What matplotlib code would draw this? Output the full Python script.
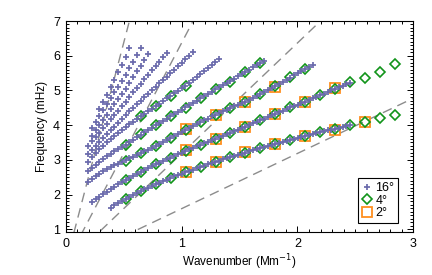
import numpy as np
import matplotlib
matplotlib.use("Agg")
import matplotlib.pyplot as plt
from matplotlib.ticker import MultipleLocator

plt.rcParams.update({
    "font.family": ["Liberation Sans", "DejaVu Sans"],
    "font.size": 8.5,
})

# ---------------------------------------------------------
# k-grid spacings for the three patch sizes (Mm^-1)
# ---------------------------------------------------------
dk16 = 0.0323
dk4 = 0.1293
dk2 = 0.2586

# 16 deg ridges: first grid index and frequencies (mHz)
start16 = {"f": 12, "p1": 7, "p2": 6, "p3": 6, "p4": 6,
           "p5": 6, "p6": 6, "p7": 7, "p8": 7, "p9": 9}

nu16_f = [1.62, 1.70, 1.76, 1.82, 1.88, 1.94, 1.99, 2.05, 2.10, 2.15, 2.20, 2.25,
          2.29, 2.34, 2.39, 2.43, 2.47, 2.52, 2.56, 2.60, 2.64, 2.68, 2.72, 2.76,
          2.80, 2.83, 2.87, 2.91, 2.94, 2.98, 3.01, 3.05, 3.08, 3.12, 3.15, 3.18,
          3.21, 3.25, 3.28, 3.31, 3.34, 3.37, 3.40, 3.43, 3.46, 3.49, 3.52, 3.55,
          3.58, 3.60, 3.63, 3.66, 3.69, 3.72, 3.74, 3.77, 3.80, 3.82, 3.85, 3.87,
          3.90, 3.92, 3.95, 3.97, 4.00]
nu16_p1 = [1.78, 1.86, 1.94, 2.01, 2.08, 2.15, 2.22, 2.29, 2.36, 2.42, 2.48, 2.54,
           2.60, 2.66, 2.71, 2.77, 2.82, 2.87, 2.92, 2.97, 3.01, 3.06, 3.11, 3.16,
           3.21, 3.26, 3.30, 3.35, 3.39, 3.44, 3.48, 3.52, 3.57, 3.61, 3.65, 3.69,
           3.74, 3.78, 3.82, 3.86, 3.91, 3.95, 4.00, 4.05, 4.09, 4.14, 4.19, 4.24,
           4.28, 4.33, 4.37, 4.42, 4.46, 4.51, 4.55, 4.59, 4.64, 4.68, 4.73, 4.77,
           4.82, 4.86, 4.91, 4.96, 5.00, 5.05, 5.09, 5.13, 5.18, 5.22]
nu16_p2 = [2.35, 2.44, 2.52, 2.60, 2.67, 2.73, 2.79, 2.84, 2.89, 2.94, 2.99, 3.04,
           3.09, 3.14, 3.19, 3.24, 3.29, 3.35, 3.40, 3.46, 3.51, 3.57, 3.62, 3.68,
           3.75, 3.81, 3.87, 3.92, 3.98, 4.03, 4.09, 4.14, 4.19, 4.25, 4.30, 4.35,
           4.40, 4.44, 4.49, 4.54, 4.59, 4.63, 4.68, 4.73, 4.79, 4.84, 4.90, 4.95,
           5.01, 5.06, 5.12, 5.18, 5.24, 5.30, 5.36, 5.43, 5.49, 5.55, 5.61, 5.67,
           5.73]
nu16_p3 = [2.67, 2.77, 2.86, 2.95, 3.03, 3.10, 3.17, 3.24, 3.31, 3.38, 3.44, 3.51,
           3.58, 3.65, 3.72, 3.79, 3.86, 3.92, 3.99, 4.05, 4.12, 4.18, 4.25, 4.31,
           4.38, 4.44, 4.51, 4.57, 4.64, 4.70, 4.77, 4.83, 4.90, 4.96, 5.03, 5.09,
           5.15, 5.22, 5.28, 5.34, 5.41, 5.47, 5.54, 5.60, 5.67, 5.73, 5.80, 5.86]
nu16_p4 = [2.95, 3.07, 3.19, 3.30, 3.40, 3.50, 3.60, 3.69, 3.77, 3.86, 3.94, 4.02,
           4.10, 4.17, 4.25, 4.32, 4.40, 4.47, 4.54, 4.62, 4.70, 4.77, 4.85, 4.92,
           4.99, 5.06, 5.14, 5.22, 5.31, 5.39, 5.48, 5.56, 5.65, 5.73, 5.82, 5.90]
nu16_p5 = [3.17, 3.28, 3.40, 3.51, 3.62, 3.74, 3.85, 3.96, 4.07, 4.19, 4.30, 4.40,
           4.50, 4.60, 4.70, 4.80, 4.90, 5.00, 5.10, 5.20, 5.30, 5.40, 5.50, 5.60,
           5.70, 5.80, 5.90, 6.00, 6.10]
nu16_p6 = [3.40, 3.53, 3.66, 3.78, 3.91, 4.04, 4.17, 4.30, 4.42, 4.55, 4.68, 4.81,
           4.94, 5.06, 5.19, 5.32, 5.45, 5.58, 5.70, 5.83, 5.96, 6.09]
nu16_p7 = [3.70, 3.85, 4.00, 4.15, 4.30, 4.45, 4.60, 4.75, 4.90, 5.05, 5.22, 5.38,
           5.55, 5.71, 5.88, 6.04]
nu16_p8 = [3.93, 4.10, 4.27, 4.44, 4.61, 4.78, 4.94, 5.11, 5.28, 5.45, 5.64, 5.83,
           6.02, 6.21]
nu16_p9 = [4.45, 4.66, 4.87, 5.09, 5.30, 5.52, 5.73, 5.95, 6.21]

ridges16 = {"f": nu16_f, "p1": nu16_p1, "p2": nu16_p2, "p3": nu16_p3, "p4": nu16_p4,
            "p5": nu16_p5, "p6": nu16_p6, "p7": nu16_p7, "p8": nu16_p8, "p9": nu16_p9}

# 4 deg ridges
start4 = {"f": 4, "p1": 4, "p2": 4, "p3": 4, "p4": 5}
nu4_f = [1.88, 2.10, 2.29, 2.47, 2.64, 2.80, 2.94, 3.08, 3.21, 3.34, 3.46, 3.58,
         3.68, 3.81, 3.88, 3.99, 4.10, 4.21, 4.30]
nu4_p1 = [2.43, 2.66, 2.87, 3.06, 3.26, 3.44, 3.61, 3.78, 3.95, 4.14, 4.33, 4.51,
          4.68, 4.86, 5.05, 5.23, 5.37, 5.54, 5.76]
nu4_p2 = [2.97, 3.19, 3.41, 3.62, 3.87, 4.09, 4.30, 4.49, 4.68, 4.90, 5.12, 5.38, 5.61]
nu4_p3 = [3.44, 3.73, 3.99, 4.25, 4.50, 4.79, 5.03, 5.25, 5.53, 5.80]
nu4_p4 = [4.25, 4.54, 4.85, 5.14]
ridges4 = {"f": nu4_f, "p1": nu4_p1, "p2": nu4_p2, "p3": nu4_p3, "p4": nu4_p4}

# 2 deg ridges
start2 = {"f": 4, "p1": 4, "p2": 4}
nu2_f = [2.66, 2.95, 3.22, 3.45, 3.68, 3.87, 4.08]
nu2_p1 = [3.28, 3.61, 3.95, 4.33, 4.68, 5.06]
nu2_p2 = [3.89, 4.30, 4.68, 5.11]
ridges2 = {"f": nu2_f, "p1": nu2_p1, "p2": nu2_p2}

# phase-speed guide lines (km/s)
phase_speeds = [10, 20, 40, 80]

col16 = "#6a6aac"
col4 = "#11941a"
col2 = "#ff8f1f"

# ---------------------------------------------------------
# PLOT
# ---------------------------------------------------------
fig = plt.figure(figsize=(4.32, 2.75), dpi=100)
ax = fig.add_axes([0.1521, 0.1564, 0.8046, 0.7672])

kk = np.array([0.0, 3.0])
for v in phase_speeds:
    ax.plot(kk, v * kk / (2 * np.pi), color="#8c8c8c", lw=1.0,
            dashes=(7, 4.5), zorder=1)

for i, (name, nu) in enumerate(ridges2.items()):
    k = dk2 * np.arange(start2[name], start2[name] + len(nu))
    ax.plot(k, nu, ls="none", marker="s", ms=7.5, mfc="none", mec=col2,
            mew=1.3, zorder=3, label="2°" if i == 0 else None)

for i, (name, nu) in enumerate(ridges4.items()):
    k = dk4 * np.arange(start4[name], start4[name] + len(nu))
    ax.plot(k, nu, ls="none", marker="D", ms=5.6, mfc="none", mec=col4,
            mew=1.2, zorder=4, label="4°" if i == 0 else None)

for i, (name, nu) in enumerate(ridges16.items()):
    k = dk16 * np.arange(start16[name], start16[name] + len(nu))
    ax.plot(k, nu, ls="none", marker="+", ms=3.8, mec=col16,
            mew=1.25, zorder=5, label="16°" if i == 0 else None)

ax.set_xlim(0, 3)
ax.set_ylim(0.92, 7)
ax.xaxis.set_major_locator(MultipleLocator(1))
ax.xaxis.set_minor_locator(MultipleLocator(0.1))
ax.yaxis.set_major_locator(MultipleLocator(1))
ax.yaxis.set_minor_locator(MultipleLocator(0.1))
ax.tick_params(which="both", direction="in", top=True, right=True, width=0.7)
ax.tick_params(which="major", length=4.5, pad=4, labelsize=9)
ax.tick_params(which="minor", length=2.2)
for sp in ax.spines.values():
    sp.set_linewidth(0.8)

ax.set_xlabel("Wavenumber (Mm$^{-1}$)", labelpad=2)
ax.set_ylabel("Frequency (mHz)", labelpad=4)

h, l = ax.get_legend_handles_labels()
order = [l.index("16°"), l.index("4°"), l.index("2°")]
leg = ax.legend([h[o] for o in order], [l[o] for o in order],
                loc="lower right", bbox_to_anchor=(0.956, 0.043),
                fontsize=9, handlelength=0.7, handletextpad=0.35,
                labelspacing=0.05, borderpad=0.3, borderaxespad=0,
                fancybox=False, edgecolor="black", framealpha=1)
leg.get_frame().set_linewidth(0.8)

fig.savefig("out.png", dpi=100)
